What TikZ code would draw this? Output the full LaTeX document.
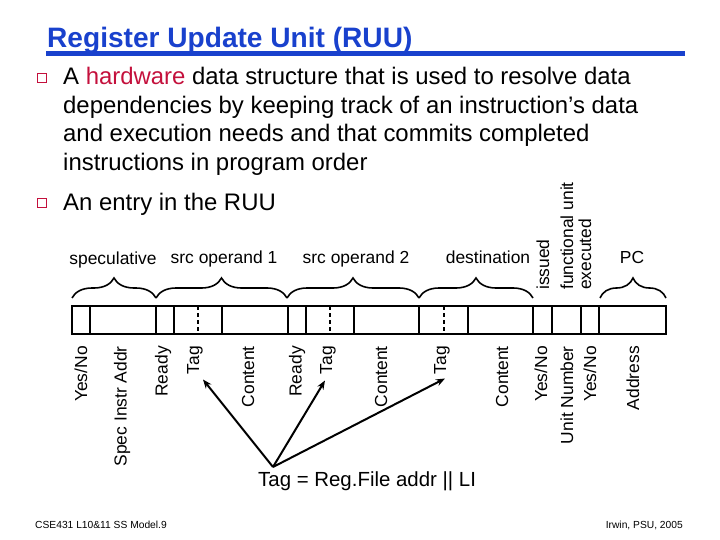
\documentclass[tikz,border=0pt]{standalone}
\usepackage{fontspec}
\setmainfont{Liberation Sans}
\usetikzlibrary{decorations.pathreplacing,calc,arrows.meta}
\definecolor{ttlblue}{RGB}{25,65,205}
\definecolor{hwred}{RGB}{196,16,60}
\tikzset{
  body/.style={anchor=base west,inner sep=0pt,font=\fontsize{24}{28}\selectfont},
  grp/.style={anchor=base,inner sep=0pt,font=\fontsize{17.5}{20}\selectfont},
  lowlab/.style={rotate=90,anchor=east,inner sep=0pt,font=\fontsize{17.5}{20}\selectfont},
  uplab/.style={rotate=90,anchor=west,inner sep=0pt,font=\fontsize{17.5}{20}\selectfont},
  thin/.style={line width=1.2bp},
  thick/.style={line width=2.6bp},
  dsh/.style={line width=1.3bp,dash pattern=on 4bp off 3bp},
  brc/.style={decorate,decoration={brace,amplitude=20bp,aspect=0.5},line width=1.6bp},
  arr/.style={line width=2bp,-{Stealth[length=9bp,width=7bp]}},
  bul/.style={draw=hwred,line width=1.4bp,minimum size=9bp,inner sep=0pt}
}
\begin{document}
\begin{tikzpicture}[x=1bp,y=-1bp]
\useasboundingbox (0,0) rectangle (720,540);
% title
\node[anchor=base west,inner sep=0pt,text=ttlblue,font=\fontsize{28.2}{32}\selectfont\bfseries] (title) at (47,48) {Register Update Unit (RUU)};
\fill[ttlblue] (46,51) rectangle (685,56);
% bullets
\node[bul] (b1) at (42,78) {};
\node[body] (l1) at (63,85) {A \textcolor{hwred}{hardware} data structure that is used to resolve data};
\node[body] (l2) at (63,114) {dependencies by keeping track of an instruction’s data};
\node[body] (l3) at (63,142) {and execution needs and that commits completed};
\node[body] (l4) at (63,171) {instructions in program order};
\node[bul] (b2) at (42,203) {};
\node[body] (l5) at (63,211) {An entry in the RUU};
% group labels
\node[grp] (g1) at (113,265) {speculative};
\node[grp] (g2) at (224,264) {src operand 1};
\node[grp] (g3) at (356,264) {src operand 2};
\node[grp] (g4) at (488,264) {destination};
\node[grp] (g5) at (632,264) {PC};
\node[uplab] (u1) at (543,290) {issued};
\node[uplab] (u2) at (567,290) {functional unit};
\node[uplab] (u3) at (585,290) {executed};
% braces
\draw[brc] (72,298) -- (156,298);
\draw[brc] (156,298) -- (287,298);
\draw[brc] (287,298) -- (419,298);
\draw[brc] (419,298) -- (533,298);
\draw[brc] (600,298) -- (666,298);
% entry box
\draw[line width=2bp] (72,306) rectangle (666,334);
\foreach \x in {90,174,222,306,354,468,552} \draw[thin] (\x,306) -- (\x,334);
\foreach \x in {156,288,419,533,581,599} \draw[thick] (\x,306) -- (\x,334);
\foreach \x in {198,330,444} \draw[dsh] (\x,306) -- (\x,334);
% lower labels
\node[lowlab] (d1) at (81,346) {Yes/No};
\node[lowlab] (d2) at (122,346) {Spec Instr Addr};
\node[lowlab] (d3) at (163,346) {Ready};
\node[lowlab] (tag1) at (195,346) {Tag};
\node[lowlab] (d5) at (248,346) {Content};
\node[lowlab] (d6) at (297,346) {Ready};
\node[lowlab] (tag2) at (328,346) {Tag};
\node[lowlab] (d8) at (381,346) {Content};
\node[lowlab] (tag3) at (442,346) {Tag};
\node[lowlab] (d10) at (502,346) {Content};
\node[lowlab] (d11) at (541,346) {Yes/No};
\node[lowlab] (d12) at (567,346) {Unit Number};
\node[lowlab] (d13) at (590,346) {Yes/No};
\node[lowlab] (d14) at (633,346) {Address};
% tag note
\node[anchor=base west,inner sep=0pt,font=\fontsize{20.5}{24}\selectfont] (note) at (258,486) {Tag = Reg.File addr || LI};
\coordinate (o) at (273,467);
\draw[arr] (o) -- ($(tag1.west)+(8,5)$);
\draw[arr] (o) -- ($(tag2.west)+(-3,6)$);
\draw[arr] (o) -- ($(tag3.west)+(3,4)$);
% footer
\node[anchor=base west,inner sep=0pt,font=\fontsize{10.3}{12}\selectfont] (f1) at (35,528) {CSE431 L10\&11 SS Model.9};
\node[anchor=base east,inner sep=0pt,font=\fontsize{10.3}{12}\selectfont] (f2) at (683,528) {Irwin, PSU, 2005};
\end{tikzpicture}
\end{document}
